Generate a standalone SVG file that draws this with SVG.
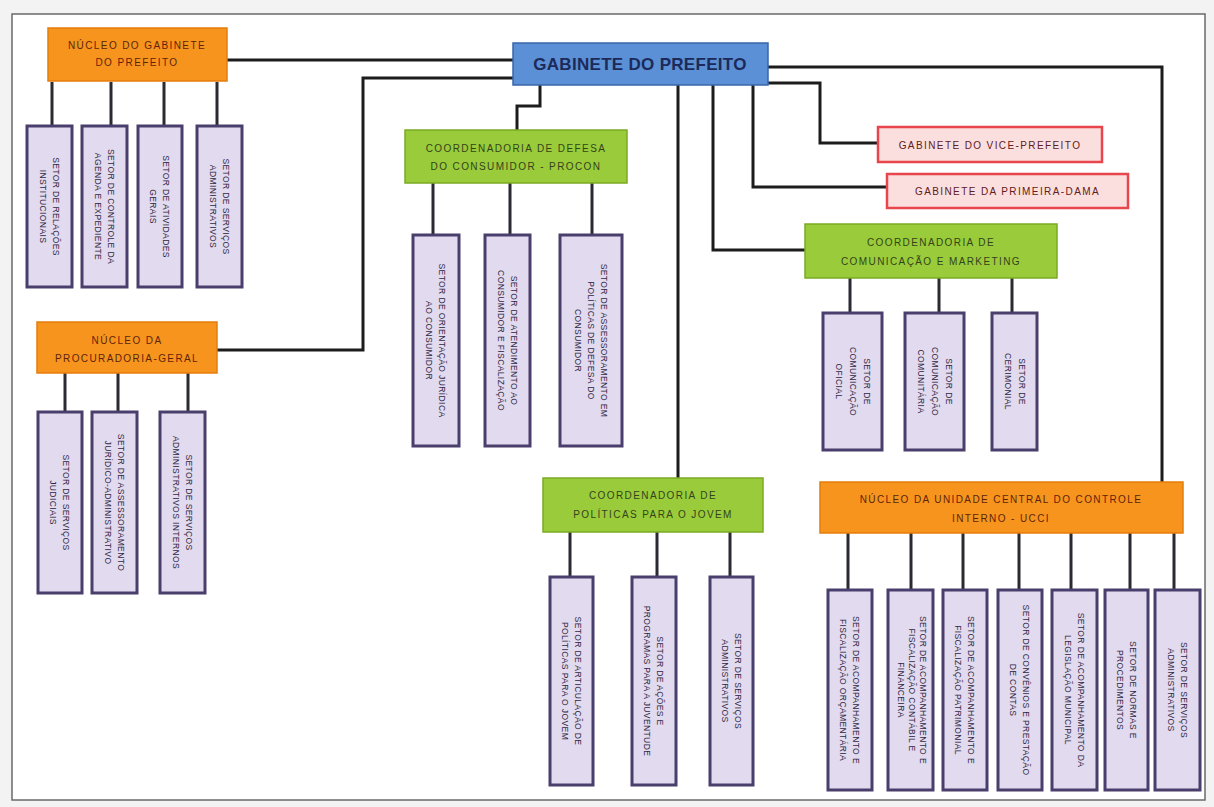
<svg xmlns="http://www.w3.org/2000/svg" width="1214" height="807" viewBox="0 0 1214 807">
<style>
.bg{fill:#f3f3f3}
.frame{fill:#ffffff;stroke:#6a6a6a;stroke-width:1.5}
.conn path{fill:none;stroke:#1c1c1c;stroke-width:3;stroke-linejoin:miter}
.conn .sub{stroke:#2a2a33;stroke-width:3}
.blue{fill:#5b8fd6;stroke:#3a65a8;stroke-width:1.5}
.orange{fill:#f7941e;stroke:#e57d0c;stroke-width:1.5}
.green{fill:#9acb3a;stroke:#7aab22;stroke-width:1.5}
.red{fill:#fbdede;stroke:#e8464c;stroke-width:2.5}
.leaf{fill:#e2daee;stroke:#4a3e6c;stroke-width:3}
.t{font-family:"Liberation Sans",Arial,sans-serif;text-anchor:middle}
.title{font-size:17px;font-weight:bold;fill:#1b2a58;letter-spacing:0.3px}
.hd{font-size:10px;letter-spacing:1.4px}
.ho{fill:#5e240a}
.hg{fill:#33441a}
.hr{fill:#5e2020}
.lf{font-size:8.5px;letter-spacing:0.4px;fill:#2f2844}
</style>
<rect class="bg" x="0" y="0" width="1214" height="807"/>
<rect class="frame" x="12" y="14" width="1193" height="786"/>

<g id="connectors" class="conn">
  <path d="M227 60 H513"/>
  <path d="M513 78 H363 V350 H217"/>
  <path d="M540 85 V106 H517 V130"/>
  <path d="M678 85 V478"/>
  <path d="M713 85 V250 H805"/>
  <path d="M753 85 V187 H887"/>
  <path d="M768 83 H820 V143 H878"/>
  <path d="M768 67 H1162 V482"/>
  <path class="sub" d="M52 82 V126 M111 82 V126 M164 82 V126 M217 82 V126"/>
  <path class="sub" d="M65 373 V412 M118 373 V412 M188 373 V412"/>
  <path class="sub" d="M433 183 V235 M510 183 V235 M592 183 V235"/>
  <path class="sub" d="M850 278 V313 M939 278 V313 M1012 278 V313"/>
  <path class="sub" d="M570 532 V577 M657 532 V577 M730 532 V577"/>
  <path class="sub" d="M848 533 V590 M911 533 V590 M963 533 V590 M1019 533 V590 M1071 533 V590 M1130 533 V590 M1174 533 V590"/>
</g>

<g id="gabinete-prefeito">
  <rect class="blue" x="513" y="43" width="255" height="42"/>
  <text class="t title" x="640" y="70">GABINETE DO PREFEITO</text>
</g>

<g id="nucleo-gabinete">
  <rect class="orange" x="48" y="28" width="179" height="53"/>
  <text class="t hd ho" x="137" y="49">NÚCLEO DO GABINETE</text>
  <text class="t hd ho" x="137" y="66">DO PREFEITO</text>
</g>
<g id="ng-1"><rect class="leaf" x="27" y="126" width="45" height="161"/>
  <text class="t lf" transform="translate(49.5,206.5) rotate(90)"><tspan x="0" y="-3">SETOR DE RELAÇÕES</tspan><tspan x="0" y="10">INSTITUCIONAIS</tspan></text></g>
<g id="ng-2"><rect class="leaf" x="82" y="126" width="45" height="161"/>
  <text class="t lf" transform="translate(104.5,206.5) rotate(90)"><tspan x="0" y="-3">SETOR DE CONTROLE DA</tspan><tspan x="0" y="10">AGENDA E EXPEDIENTE</tspan></text></g>
<g id="ng-3"><rect class="leaf" x="138" y="126" width="44" height="161"/>
  <text class="t lf" transform="translate(160,206.5) rotate(90)"><tspan x="0" y="-3">SETOR DE ATIVIDADES</tspan><tspan x="0" y="10">GERAIS</tspan></text></g>
<g id="ng-4"><rect class="leaf" x="197" y="126" width="45" height="161"/>
  <text class="t lf" transform="translate(219.5,206.5) rotate(90)"><tspan x="0" y="-3">SETOR DE SERVIÇOS</tspan><tspan x="0" y="10">ADMINISTRATIVOS</tspan></text></g>

<g id="nucleo-procuradoria">
  <rect class="orange" x="37" y="322" width="180" height="51"/>
  <text class="t hd ho" x="127" y="344">NÚCLEO DA</text>
  <text class="t hd ho" x="127" y="362">PROCURADORIA-GERAL</text>
</g>
<g id="pg-1"><rect class="leaf" x="38" y="412" width="44" height="181"/>
  <text class="t lf" transform="translate(60,502.5) rotate(90)"><tspan x="0" y="-3">SETOR DE SERVIÇOS</tspan><tspan x="0" y="10">JUDICIAIS</tspan></text></g>
<g id="pg-2"><rect class="leaf" x="92" y="412" width="45" height="181"/>
  <text class="t lf" transform="translate(114.5,502.5) rotate(90)"><tspan x="0" y="-3">SETOR DE ASSESSORAMENTO</tspan><tspan x="0" y="10">JURÍDICO-ADMINISTRATIVO</tspan></text></g>
<g id="pg-3"><rect class="leaf" x="160" y="412" width="45" height="181"/>
  <text class="t lf" transform="translate(182.5,502.5) rotate(90)"><tspan x="0" y="-3">SETOR DE SERVIÇOS</tspan><tspan x="0" y="10">ADMINISTRATIVOS INTERNOS</tspan></text></g>

<g id="procon">
  <rect class="green" x="405" y="130" width="222" height="53"/>
  <text class="t hd hg" x="516" y="152">COORDENADORIA DE DEFESA</text>
  <text class="t hd hg" x="516" y="170">DO CONSUMIDOR - PROCON</text>
</g>
<g id="procon-1"><rect class="leaf" x="413" y="235" width="46" height="211"/>
  <text class="t lf" transform="translate(436,340.5) rotate(90)"><tspan x="0" y="-3">SETOR DE ORIENTAÇÃO JURÍDICA</tspan><tspan x="0" y="10">AO CONSUMIDOR</tspan></text></g>
<g id="procon-2"><rect class="leaf" x="485" y="235" width="45" height="211"/>
  <text class="t lf" transform="translate(507.5,340.5) rotate(90)"><tspan x="0" y="-3">SETOR DE ATENDIMENTO AO</tspan><tspan x="0" y="10">CONSUMIDOR E FISCALIZAÇÃO</tspan></text></g>
<g id="procon-3"><rect class="leaf" x="560" y="235" width="62" height="211"/>
  <text class="t lf" transform="translate(591,340.5) rotate(90)"><tspan x="0" y="-10">SETOR DE ASSESSORAMENTO EM</tspan><tspan x="0" y="3">POLÍTICAS DE DEFESA DO</tspan><tspan x="0" y="16">CONSUMIDOR</tspan></text></g>

<g id="vice-prefeito">
  <rect class="red" x="878" y="127" width="224" height="35"/>
  <text class="t hd hr" x="990" y="148.5">GABINETE DO VICE-PREFEITO</text>
</g>
<g id="primeira-dama">
  <rect class="red" x="887" y="174" width="241" height="34"/>
  <text class="t hd hr" x="1007.5" y="195">GABINETE DA PRIMEIRA-DAMA</text>
</g>

<g id="comunicacao">
  <rect class="green" x="805" y="224" width="252" height="54"/>
  <text class="t hd hg" x="931" y="246">COORDENADORIA DE</text>
  <text class="t hd hg" x="931" y="265">COMUNICAÇÃO E MARKETING</text>
</g>
<g id="com-1"><rect class="leaf" x="823" y="313" width="59" height="137"/>
  <text class="t lf" transform="translate(852.5,381.5) rotate(90)"><tspan x="0" y="-11">SETOR DE</tspan><tspan x="0" y="3">COMUNICAÇÃO</tspan><tspan x="0" y="17">OFICIAL</tspan></text></g>
<g id="com-2"><rect class="leaf" x="905" y="313" width="59" height="137"/>
  <text class="t lf" transform="translate(934.5,381.5) rotate(90)"><tspan x="0" y="-11">SETOR DE</tspan><tspan x="0" y="3">COMUNICAÇÃO</tspan><tspan x="0" y="17">COMUNITÁRIA</tspan></text></g>
<g id="com-3"><rect class="leaf" x="992" y="313" width="45" height="137"/>
  <text class="t lf" transform="translate(1014.5,381.5) rotate(90)"><tspan x="0" y="-4">SETOR DE</tspan><tspan x="0" y="10">CERIMONIAL</tspan></text></g>

<g id="juventude">
  <rect class="green" x="543" y="478" width="220" height="54"/>
  <text class="t hd hg" x="653" y="499">COORDENADORIA DE</text>
  <text class="t hd hg" x="653" y="518">POLÍTICAS PARA O JOVEM</text>
</g>
<g id="juv-1"><rect class="leaf" x="550" y="577" width="43" height="208"/>
  <text class="t lf" transform="translate(571.5,681) rotate(90)"><tspan x="0" y="-3">SETOR DE ARTICULAÇÃO DE</tspan><tspan x="0" y="10">POLÍTICAS PARA O JOVEM</tspan></text></g>
<g id="juv-2"><rect class="leaf" x="632" y="577" width="44" height="208"/>
  <text class="t lf" transform="translate(654,681) rotate(90)"><tspan x="0" y="-3">SETOR DE AÇÕES E</tspan><tspan x="0" y="10">PROGRAMAS PARA A JUVENTUDE</tspan></text></g>
<g id="juv-3"><rect class="leaf" x="710" y="577" width="43" height="208"/>
  <text class="t lf" transform="translate(731.5,681) rotate(90)"><tspan x="0" y="-3">SETOR DE SERVIÇOS</tspan><tspan x="0" y="10">ADMINISTRATIVOS</tspan></text></g>

<g id="ucci">
  <rect class="orange" x="820" y="482" width="363" height="51"/>
  <text class="t hd ho" x="1001" y="503">NÚCLEO DA UNIDADE CENTRAL DO CONTROLE</text>
  <text class="t hd ho" x="1001" y="522">INTERNO - UCCI</text>
</g>
<g id="ucci-1"><rect class="leaf" x="828" y="590" width="44" height="200"/>
  <text class="t lf" transform="translate(850,690) rotate(90)"><tspan x="0" y="-3">SETOR DE ACOMPANHAMENTO E</tspan><tspan x="0" y="10">FISCALIZAÇÃO ORÇAMENTÁRIA</tspan></text></g>
<g id="ucci-2"><rect class="leaf" x="888" y="590" width="45" height="200"/>
  <text class="t lf" transform="translate(910.5,690) rotate(90)"><tspan x="0" y="-9">SETOR DE ACOMPANHAMENTO E</tspan><tspan x="0" y="2">FISCALIZAÇÃO CONTÁBIL E</tspan><tspan x="0" y="13">FINANCEIRA</tspan></text></g>
<g id="ucci-3"><rect class="leaf" x="943" y="590" width="44" height="200"/>
  <text class="t lf" transform="translate(965,690) rotate(90)"><tspan x="0" y="-3">SETOR DE ACOMPANHAMENTO E</tspan><tspan x="0" y="10">FISCALIZAÇÃO PATRIMONIAL</tspan></text></g>
<g id="ucci-4"><rect class="leaf" x="998" y="590" width="44" height="200"/>
  <text class="t lf" transform="translate(1020,690) rotate(90)"><tspan x="0" y="-3">SETOR DE CONVÊNIOS E PRESTAÇÃO</tspan><tspan x="0" y="10">DE CONTAS</tspan></text></g>
<g id="ucci-5"><rect class="leaf" x="1052" y="590" width="45" height="200"/>
  <text class="t lf" transform="translate(1074.5,690) rotate(90)"><tspan x="0" y="-3">SETOR DE ACOMPANHAMENTO DA</tspan><tspan x="0" y="10">LEGISLAÇÃO MUNICIPAL</tspan></text></g>
<g id="ucci-6"><rect class="leaf" x="1105" y="590" width="43" height="200"/>
  <text class="t lf" transform="translate(1126.5,690) rotate(90)"><tspan x="0" y="-3">SETOR DE NORMAS E</tspan><tspan x="0" y="10">PROCEDIMENTOS</tspan></text></g>
<g id="ucci-7"><rect class="leaf" x="1155" y="590" width="45" height="200"/>
  <text class="t lf" transform="translate(1177.5,690) rotate(90)"><tspan x="0" y="-3">SETOR DE SERVIÇOS</tspan><tspan x="0" y="10">ADMINISTRATIVOS</tspan></text></g>
</svg>
